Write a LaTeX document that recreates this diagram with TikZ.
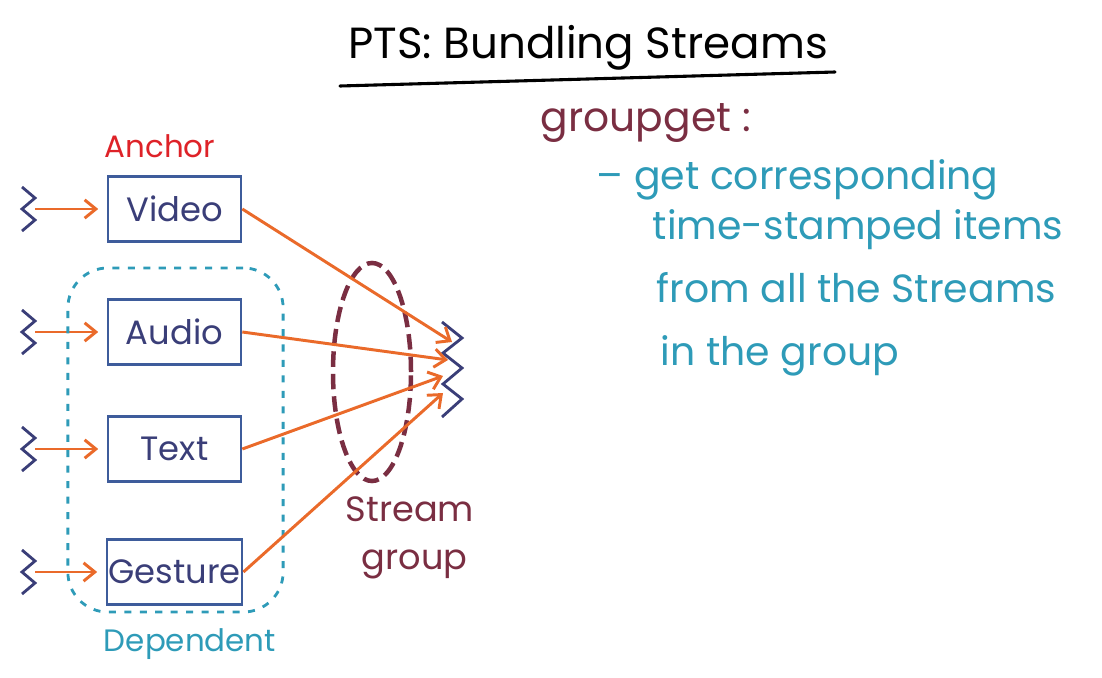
\documentclass[tikz,border=0pt]{standalone}
\usepackage{fontspec}
\setmainfont{Poppins}
\usetikzlibrary{shapes.geometric, arrows.meta, positioning, calc}
\definecolor{streamorange}{RGB}{234, 106, 42}
\definecolor{boxblue}{RGB}{62, 92, 155}
\definecolor{inkblue}{RGB}{58, 62, 120}
\definecolor{anchorred}{RGB}{222, 34, 40}
\definecolor{depteal}{RGB}{46, 155, 184}
\definecolor{groupmaroon}{RGB}{122, 46, 66}

\begin{document}
\begin{tikzpicture}[x=0.025cm, y=-0.025cm,
    streambox/.style={draw=boxblue, line width=2pt, minimum width=3.32cm, minimum height=1.64cm,
        inner xsep=1pt, text=inkblue, font=\fontsize{24}{28}\selectfont},
    zigzag/.style={draw=inkblue, line width=2pt, line join=miter},
    feed/.style={draw=streamorange, line width=2.1pt, -{Straight Barb[length=8pt, width=13pt, line width=2.1pt]}},
    note/.style={anchor=west, text=depteal, font=\fontsize{28}{32}\selectfont}]
    \useasboundingbox (0,0) rectangle (1102,677);

    % Title
    \node[font=\fontsize{31}{35}\selectfont] (title) at (588,48) {PTS: Bundling Streams};
    \draw[line width=2.2pt, line cap=round] (340,86) -- (835,72);

    % Stream boxes and their inputs
    \foreach \name/\label/\y in {video/Video/209, audio/Audio/332, text/Text/449, gesture/Gesture/572} {
        \node[streambox] (\name) at (174.5,\y) {\label};
        \draw[zigzag] (22,\y-22) -- (35,\y-11) -- (22,\y) -- (35,\y+11) -- (22,\y+22);
        \coordinate (\name-in) at (35,\y);
        \draw[feed, shorten >=6pt] (\name-in) -- (\name.west);
    }
    \node[text=anchorred, font=\fontsize{22}{26}\selectfont] (anchor) at (160,146) {Anchor};

    % Dependent group
    \node[draw=depteal, line width=2pt, dash pattern=on 5pt off 6pt, rounded corners=1cm,
        minimum width=5.38cm, minimum height=8.6cm] (dep) at (175.5,440) {};
    \node[text=depteal, font=\fontsize{22}{26}\selectfont] (deplabel) at (190,644) {Dependent};

    % Stream group
    \node[ellipse, draw=groupmaroon, line width=3.2pt, dash pattern=on 11pt off 5pt,
        minimum width=1.95cm, minimum height=5.45cm] (sgroup) at (372,372) {};
    \node[text=groupmaroon, align=center, font=\fontsize{25}{34}\selectfont] (sglabel) at (410,538) {Stream\\\ group};

    % Bundled output
    \draw[zigzag] (442,322) -- (462,338) -- (443,353) -- (462,368) -- (443,384) -- (462,399) -- (442,417);
    \coordinate (out1) at (452,342);
    \coordinate (out2) at (448,360);
    \coordinate (out3) at (443,376);
    \coordinate (out4) at (443,393);
    \draw[feed] (video.east) -- (out1);
    \draw[feed] (audio.east) -- (out2);
    \draw[feed] (text.east) -- (out3);
    \draw[feed] (gesture.east) -- (out4);

    % groupget notes
    \node[anchor=west, text=groupmaroon, font=\fontsize{29}{33}\selectfont] (groupget) at (536,123) {groupget :};
    \node[note] (line1) at (592,180) {– get corresponding};
    \node[note] (line2) at (648,230) {time-stamped items};
    \node[note] (line3) at (652,288) {from all the Streams};
    \node[note] (line4) at (656,356) {in the group};
\end{tikzpicture}
\end{document}
